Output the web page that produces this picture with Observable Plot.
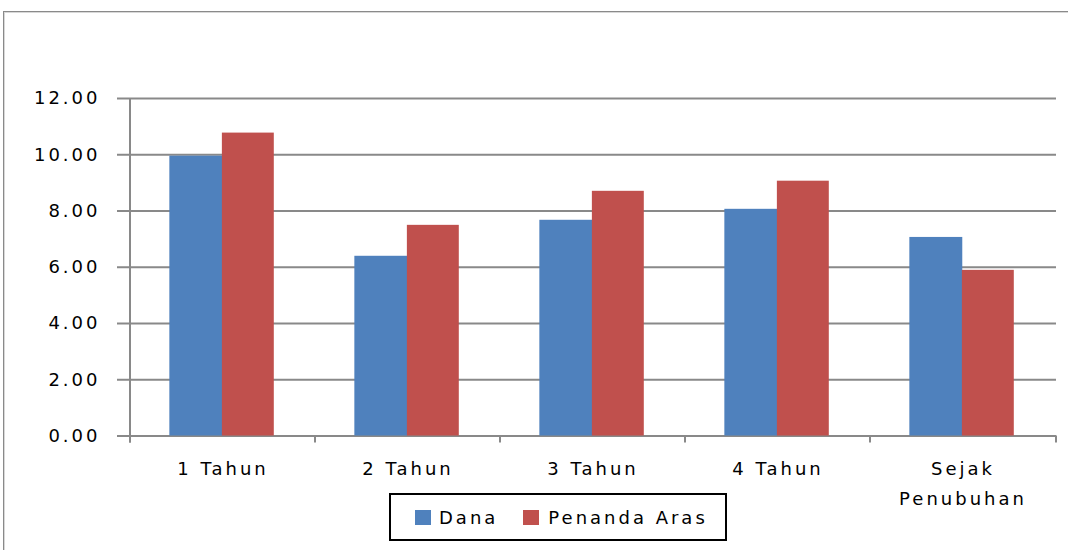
<!DOCTYPE html>
<html>
<head>
<meta charset="utf-8">
<script src="https://cdn.jsdelivr.net/npm/d3@7"></script>
<script src="https://cdn.jsdelivr.net/npm/@observablehq/plot@0.6"></script>
<style>
  html, body { margin: 0; padding: 0; background: #fff; overflow: hidden; }
  #wrap { position: relative; width: 1068px; height: 550px; overflow: hidden; }
  #border { position: absolute; left: 3px; top: 11px; width: 1200px; height: 700px;
            border-top: 1px solid #8a8a8a; border-left: 1px solid #8a8a8a;
            box-shadow: inset 1px 1px 0 #d8d8d8; }
  #chart { position: absolute; left: 0; top: 0; }
  #legend { position: absolute; left: 389px; top: 493px; width: 334px; height: 44px;
            border: 2px solid #000; background: #fff; display: flex; align-items: center;
            font-family: "DejaVu Sans", sans-serif; font-size: 18px; letter-spacing: 3px; color: #000; }
  .sw { width: 16px; height: 15px; display: inline-block; }
</style>
</head>
<body>
<div id="wrap">
  <div id="border"></div>
  <div id="chart"></div>
  <div id="legend"></div>
</div>
<script>
const categories = ["1 Tahun", "2 Tahun", "3 Tahun", "4 Tahun", "Sejak\nPenubuhan"];
const series = ["Dana", "Penanda Aras"];
const dana = [9.95, 6.39, 7.67, 8.06, 7.06];
const penanda = [10.77, 7.49, 8.70, 9.06, 5.89];
const yTicks = [0, 2, 4, 6, 8, 10, 12];
const colors = ["#4F81BD", "#C0504D"];
const GRAY = "#898989";

const rows = categories.flatMap((c, i) => [
  {category: c, series: series[0], value: dana[i]},
  {category: c, series: series[1], value: penanda[i]}
]);

const W = 1068, H = 550;
const mL = 128, mR = 12, mT = 98, mB = 114.5;
const bw = (W - mL - mR) / categories.length;
const barW = bw * 0.283;
const pad = bw * 0.212;

const boundaryTicks = (index, scales, values, dims) => {
  const g = d3.create("svg:g").attr("stroke", GRAY).attr("stroke-width", 2).attr("fill", "none");
  const y0 = scales.y(0), yTop = scales.y(d3.max(yTicks));
  const xs = categories.map(c => scales.x(c)).concat([dims.width - dims.marginRight]);
  g.append("line").attr("x1", xs[0]).attr("x2", xs[0]).attr("y1", yTop).attr("y2", y0 + 7);
  xs.forEach(x => g.append("line").attr("x1", x).attr("x2", x).attr("y1", y0).attr("y2", y0 + 7));
  return g.node();
};

const chart = Plot.plot({
  width: W, height: H,
  marginLeft: mL, marginRight: mR, marginTop: mT, marginBottom: mB,
  style: {fontFamily: "DejaVu Sans, sans-serif", fontSize: "18px", color: "#000", background: "transparent"},
  x: {type: "band", domain: categories, padding: 0, label: null},
  y: {domain: [0, 12], label: null},
  marks: [
    Plot.gridY(yTicks, {stroke: GRAY, strokeOpacity: 1, strokeWidth: 2}),
    Plot.axisY(yTicks, {tickFormat: d3.format(".2f"), tickSize: 11, tickPadding: 17, stroke: GRAY, strokeWidth: 2,
      fontSize: 18, fill: "#000"}),
    Plot.axisX({tickSize: 0, tickPadding: 18, fontSize: 18, fill: "#000", lineHeight: 1.65}),
    Plot.barY(rows.filter(d => d.series === series[0]), {x: "category", y: "value", fill: colors[0],
      insetLeft: pad, insetRight: bw - pad - barW - 1}),
    Plot.barY(rows.filter(d => d.series === series[1]), {x: "category", y: "value", fill: colors[1],
      insetLeft: pad + barW, insetRight: bw - pad - 2 * barW}),
    boundaryTicks
  ]
});
chart.querySelectorAll("text").forEach(t => t.style.letterSpacing = "3px");
document.getElementById("chart").appendChild(chart);

const legend = document.getElementById("legend");
legend.innerHTML =
  `<span style="width:24px"></span><span class="sw" style="background:${colors[0]}"></span>` +
  `<span style="margin-left:8px">${series[0]}</span>` +
  `<span style="width:25px"></span><span class="sw" style="background:${colors[1]}"></span>` +
  `<span style="margin-left:9px">${series[1]}</span>`;
</script>
</body>
</html>
